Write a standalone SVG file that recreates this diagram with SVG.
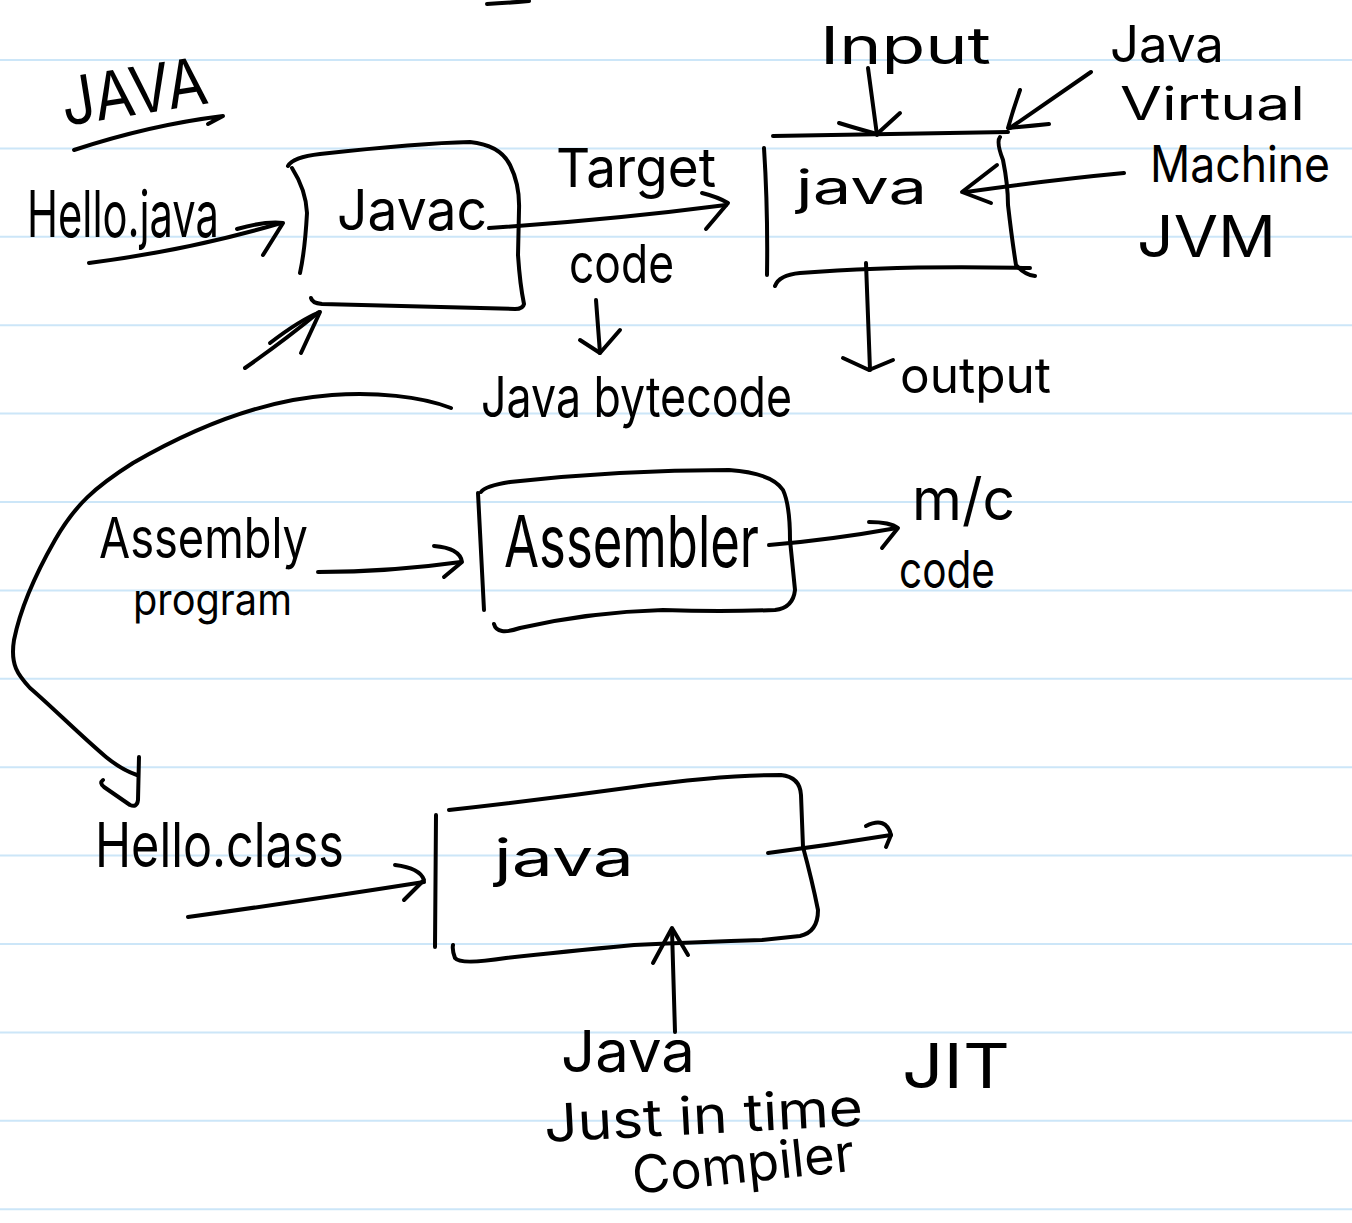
<svg xmlns="http://www.w3.org/2000/svg" width="1352" height="1223" viewBox="0 0 1352 1223">
<style>
.rule{stroke:#cce6f8;stroke-width:2}
.ink{fill:none;stroke:#000;stroke-width:4;stroke-linecap:round;stroke-linejoin:round}
.t{font-family:Inter,'Liberation Sans',sans-serif;fill:#000}
</style>
<rect width="1352" height="1223" fill="#fff"/>
<g id="ruling">
<line class="rule" x1="0" y1="60" x2="1352" y2="60"/>
<line class="rule" x1="0" y1="148.4" x2="1352" y2="148.4"/>
<line class="rule" x1="0" y1="236.8" x2="1352" y2="236.8"/>
<line class="rule" x1="0" y1="325.2" x2="1352" y2="325.2"/>
<line class="rule" x1="0" y1="413.6" x2="1352" y2="413.6"/>
<line class="rule" x1="0" y1="502" x2="1352" y2="502"/>
<line class="rule" x1="0" y1="590.4" x2="1352" y2="590.4"/>
<line class="rule" x1="0" y1="678.8" x2="1352" y2="678.8"/>
<line class="rule" x1="0" y1="767.2" x2="1352" y2="767.2"/>
<line class="rule" x1="0" y1="855.6" x2="1352" y2="855.6"/>
<line class="rule" x1="0" y1="944" x2="1352" y2="944"/>
<line class="rule" x1="0" y1="1032.4" x2="1352" y2="1032.4"/>
<line class="rule" x1="0" y1="1120.8" x2="1352" y2="1120.8"/>
<line class="rule" x1="0" y1="1209.2" x2="1352" y2="1209.2"/>
</g>
<path class="ink" d="M487,4 Q505,3 529,1" stroke-width="5"/>
<g id="title">
<text class="t" x="65" y="126" font-size="66" textLength="147" lengthAdjust="spacingAndGlyphs" transform="rotate(-9 65 126)">JAVA</text>
<path class="ink" d="M74,150 Q150,125 223,116 L208,124"/>
</g>
<g id="hello-java"><text class="t" x="27" y="237" font-size="64" textLength="192" lengthAdjust="spacingAndGlyphs">Hello.java</text></g>
<g id="node-javac">
<path class="ink" d="M288,166 Q293,157 320,154 Q420,143 470,142 Q500,145 510,165 Q520,185 519,210 L518,255 Q520,285 524,304 Q523,309 515,309 L322,304 Q312,303 311,298"/>
<path class="ink" d="M292,168 Q306,190 307,213 Q305,250 300,273"/>
<text class="t" x="337" y="230" font-size="56" textLength="150" lengthAdjust="spacingAndGlyphs">Javac</text>
</g>
<g id="target-code">
<text class="t" x="556" y="187" font-size="54" textLength="160" lengthAdjust="spacingAndGlyphs">Target</text>
<text class="t" x="569" y="283" font-size="54" textLength="105" lengthAdjust="spacingAndGlyphs">code</text>
</g>
<g id="java-bytecode"><text class="t" x="481" y="417" font-size="56" textLength="311" lengthAdjust="spacingAndGlyphs">Java bytecode</text></g>
<g id="input"><text class="t" x="820" y="64" font-size="52" textLength="171" lengthAdjust="spacingAndGlyphs">Input</text></g>
<g id="node-java-jvm">
<path class="ink" d="M773,136 L1008,132"/>
<path class="ink" d="M764,148 Q768,210 767,275"/>
<path class="ink" d="M1000,137 Q996,142 1003,160 Q1008,185 1008,205 Q1012,240 1016,265 Q1025,275 1035,276"/>
<path class="ink" d="M775,286 Q779,275 800,273 Q900,265 1030,268"/>
<text class="t" x="796" y="204" font-size="48" textLength="131" lengthAdjust="spacingAndGlyphs">java</text>
</g>
<g id="jvm-label">
<text class="t" x="1110" y="62" font-size="50" textLength="114" lengthAdjust="spacingAndGlyphs">Java</text>
<text class="t" x="1120" y="120" font-size="46" textLength="185" lengthAdjust="spacingAndGlyphs">Virtual</text>
<text class="t" x="1150" y="182" font-size="50" textLength="180" lengthAdjust="spacingAndGlyphs">Machine</text>
<text class="t" x="1137" y="257" font-size="58" textLength="139" lengthAdjust="spacingAndGlyphs">JVM</text>
</g>
<g id="output-top"><text class="t" x="900" y="393" font-size="50" textLength="151" lengthAdjust="spacingAndGlyphs">output</text></g>
<g id="assembly-program">
<text class="t" x="99" y="558" font-size="56" textLength="209" lengthAdjust="spacingAndGlyphs">Assembly</text>
<text class="t" x="133" y="615" font-size="44" textLength="159" lengthAdjust="spacingAndGlyphs">program</text>
</g>
<g id="node-assembler">
<path class="ink" d="M478,493 Q481,550 484,610"/>
<path class="ink" d="M481,492 Q485,486 510,482 Q620,470 729,470 Q772,473 783,490 Q790,505 790,540 L795,590 Q793,608 775,610 Q720,612 663,610 Q590,612 520,628 Q497,636 494,624"/>
<text class="t" x="504" y="567" font-size="72" textLength="255" lengthAdjust="spacingAndGlyphs">Assembler</text>
</g>
<g id="mc-code">
<text class="t" x="912" y="520" font-size="58" textLength="103" lengthAdjust="spacingAndGlyphs">m/c</text>
<text class="t" x="899" y="588" font-size="52" textLength="96" lengthAdjust="spacingAndGlyphs">code</text>
</g>
<g id="hello-class"><text class="t" x="95" y="867" font-size="62" textLength="249" lengthAdjust="spacingAndGlyphs">Hello.class</text></g>
<g id="node-java-jit">
<path class="ink" d="M436,815 L435,947"/>
<path class="ink" d="M449,810 Q540,800 634,787 Q720,775 781,775 Q800,777 801,795 L803,847 Q812,880 818,910 Q818,932 800,936 L762,940 Q700,942 634,945 Q560,952 506,958 Q460,965 455,958 Q452,950 453,945"/>
<text class="t" x="494" y="876" font-size="52" textLength="140" lengthAdjust="spacingAndGlyphs">java</text>
</g>
<g id="jit-label">
<text class="t" x="561" y="1072" font-size="58" textLength="134" lengthAdjust="spacingAndGlyphs">Java</text>
<text class="t" x="545" y="1142" font-size="52" textLength="319" lengthAdjust="spacingAndGlyphs" transform="rotate(-3 545 1142)">Just in time</text>
<text class="t" x="634" y="1194" font-size="52" textLength="223" lengthAdjust="spacingAndGlyphs" transform="rotate(-6 634 1194)">Compiler</text>
<text class="t" x="902" y="1088" font-size="62" textLength="108" lengthAdjust="spacingAndGlyphs">JIT</text>
</g>
<g id="connectors">
<path class="ink" d="M89,263 Q190,250 281,223"/>
<path class="ink" d="M237,229 Q265,221 283,223 L263,255"/>
<path class="ink" d="M245,368 Q285,340 319,312"/>
<path class="ink" d="M270,343 Q300,320 320,312 L301,353"/>
<path class="ink" d="M489,228 Q610,220 726,205"/>
<path class="ink" d="M702,193 Q718,197 728,203 L706,229"/>
<path class="ink" d="M596,300 L600,353"/>
<path class="ink" d="M580,340 L600,353 L620,330"/>
<path class="ink" d="M868,68 L877,135"/>
<path class="ink" d="M839,123 Q855,128 877,134 L900,113"/>
<path class="ink" d="M1091,72 L1010,128"/>
<path class="ink" d="M1020,90 Q1013,110 1008,128 Q1030,126 1049,124"/>
<path class="ink" d="M1124,173 Q1050,180 966,192"/>
<path class="ink" d="M997,165 L962,192 L991,203"/>
<path class="ink" d="M866,263 L870,370"/>
<path class="ink" d="M843,358 L869,370 L893,360"/>
<path class="ink" d="M451,408 C420,396 375,392 332,395 C260,400 190,430 133,463 C95,487 75,505 55,540 C35,575 20,610 14,640 C10,665 18,675 30,688 C50,705 80,735 106,757 Q122,770 137,775"/>
<path class="ink" d="M139,757 L138,800 Q137,808 130,805 L104,787 Q99,783 103,780"/>
<path class="ink" d="M318,572 Q390,572 461,562"/>
<path class="ink" d="M434,546 Q460,548 462,562 L444,577"/>
<path class="ink" d="M769,545 Q830,540 897,528"/>
<path class="ink" d="M869,522 Q890,522 898,528 L882,548"/>
<path class="ink" d="M188,917 Q310,900 424,882"/>
<path class="ink" d="M395,865 Q420,868 424,880 L404,900"/>
<path class="ink" d="M768,853 Q830,845 891,835"/>
<path class="ink" d="M866,826 Q886,816 891,835 L886,847"/>
<path class="ink" d="M675,1032 L672,930"/>
<path class="ink" d="M653,963 L672,928 L688,955"/>
</g>
</svg>
